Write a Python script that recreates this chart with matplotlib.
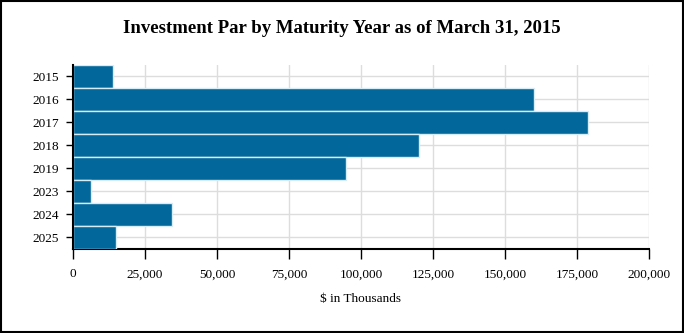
import matplotlib.pyplot as plt
from matplotlib.patches import Rectangle

# Investment par by maturity year ($ thousands)
years = ['2015', '2016', '2017', '2018', '2019', '2023', '2024', '2025']
par_values = [14000, 160000, 178800, 120000, 94800, 6400, 34500, 15000]
x_ticks = [0, 25000, 50000, 75000, 100000, 125000, 150000, 175000, 200000]

plt.rcParams['font.family'] = ['Liberation Serif', 'DejaVu Serif']

fig = plt.figure(figsize=(6.84, 3.33), dpi=100)
ax = fig.add_axes([0.1067, 0.2523, 0.8421, 0.5526])

pos = list(range(len(years)))
ax.barh(pos, par_values, height=1.0, color='#02679a', edgecolor='#d8ecf5',
        linewidth=1.0, zorder=3)

ax.set_xlim(0, 200000)
ax.set_ylim(len(years) - 0.5, -0.5)
ax.set_yticks(pos)
ax.set_yticklabels(years)
ax.set_xticks(x_ticks)
ax.set_xticklabels([f'{v:,}' for v in x_ticks])

ax.grid(True, color='#dddddd', linewidth=1.0, zorder=0)
ax.set_axisbelow(True)

for side in ('top', 'right'):
    ax.spines[side].set_visible(False)
ax.spines['left'].set_linewidth(1.5)
ax.spines['bottom'].set_linewidth(1.5)
ax.spines['left'].set_zorder(4)

ax.tick_params(axis='x', direction='out', length=7, width=1, labelsize=9.5,
               pad=7, colors='black')
ax.tick_params(axis='y', direction='out', length=5, width=1, labelsize=9.5,
               pad=5, colors='black')

ax.set_xlabel(r'\$ in Thousands', fontsize=9.5, labelpad=9)
fig.text(0.5, 0.915, 'Investment Par by Maturity Year as of March 31, 2015',
         ha='center', va='center', fontsize=13.5, fontweight='bold')

# black frame around the whole figure
fig.patches.append(Rectangle((0.002, 0.003), 0.996, 0.994, transform=fig.transFigure,
                             fill=False, edgecolor='black', linewidth=1.5))

fig.savefig('out.png', dpi=100)
